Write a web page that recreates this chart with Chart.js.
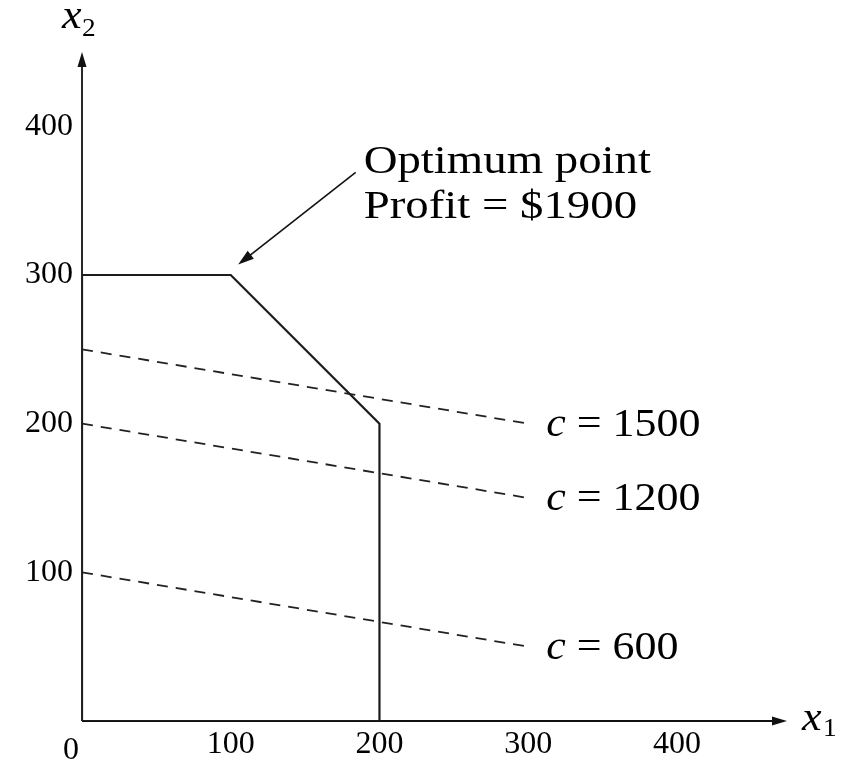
<!doctype html>
<html lang="en">
<head>
    <meta charset="utf-8">
    <title>LP feasible region</title>
    <script src="https://cdn.jsdelivr.net/npm/chart.js/dist/chart.umd.min.js"></script>
    <style>
        * { margin: 0; padding: 0; }
        body { background: #fff; }
        #lpChart { display: block; }
    </style>
</head>
<body>
    <canvas id="lpChart" width="849" height="762"></canvas>
    <script>
    // feasible region corners (x1, x2)
    var regionX = [0, 0, 100, 200, 200, 0];
    var regionY = [0, 300, 300, 200, 0, 0];

    // iso-profit lines c = x1 + 6 x2, drawn from x1 = 0 to x1 = 300
    var isoNames = ['c = 1500', 'c = 1200', 'c = 600'];
    var isoX = [0, 300];
    var isoY = [[250, 200], [200, 150], [100, 50]];

    var xTicks = [100, 200, 300, 400];
    var yTicks = [100, 200, 300, 400];

    // annotation (data units)
    var noteLines = ['Optimum point', 'Profit = $1900'];
    var noteFrom = [184, 369];
    var noteTo = [105, 307];

    var serif = '"Liberation Serif", "DejaVu Serif", serif';

    function stretchText(ctx, str, x, y, font, align, sx) {
        ctx.save();
        ctx.font = font;
        ctx.translate(x, y);
        ctx.scale(sx, 1);
        ctx.textAlign = align;
        ctx.fillText(str, 0, 0);
        ctx.restore();
    }

    function arrowHead(ctx, x0, y0, x1, y1, len, half) {
        var a = Math.atan2(y1 - y0, x1 - x0);
        ctx.beginPath();
        ctx.moveTo(x1, y1);
        ctx.lineTo(x1 - len * Math.cos(a) + half * Math.sin(a), y1 - len * Math.sin(a) - half * Math.cos(a));
        ctx.lineTo(x1 - len * Math.cos(a) - half * Math.sin(a), y1 - len * Math.sin(a) + half * Math.cos(a));
        ctx.closePath();
        ctx.fill();
    }

    var figurePlugin = {
        id: 'figure',
        beforeDatasetsDraw: function (chart) {
            var ctx = chart.ctx, sx = chart.scales.x, sy = chart.scales.y;
            var ox = sx.getPixelForValue(0), oy = sy.getPixelForValue(0);
            ctx.save();
            ctx.strokeStyle = '#111';
            ctx.fillStyle = '#111';
            ctx.lineWidth = 1.8;
            ctx.beginPath();
            ctx.moveTo(ox, oy); ctx.lineTo(sx.right - 4, oy);
            ctx.moveTo(ox, oy); ctx.lineTo(ox, sy.top + 4);
            ctx.stroke();
            arrowHead(ctx, ox, oy, sx.right, oy, 15, 4.5);
            arrowHead(ctx, ox, oy, ox, sy.top, 15, 4.5);
            ctx.restore();
        },
        afterDatasetsDraw: function (chart) {
            var ctx = chart.ctx, sx = chart.scales.x, sy = chart.scales.y;
            var ox = sx.getPixelForValue(0), oy = sy.getPixelForValue(0);
            ctx.save();
            ctx.fillStyle = '#000';
            ctx.textBaseline = 'middle';
            var tickFont = '32px ' + serif;
            xTicks.forEach(function (v) {
                stretchText(ctx, String(v), sx.getPixelForValue(v), oy + 24, tickFont, 'center', 1);
            });
            yTicks.forEach(function (v) {
                stretchText(ctx, String(v), ox - 9, sy.getPixelForValue(v), tickFont, 'right', 1);
            });
            stretchText(ctx, '0', ox - 11, oy + 30, tickFont, 'center', 1);

            // axis titles
            ctx.textBaseline = 'alphabetic';
            stretchText(ctx, 'x', 62, 28, 'italic 42px ' + serif, 'left', 1.05);
            stretchText(ctx, '2', 82, 36, '26px ' + serif, 'left', 1.05);
            stretchText(ctx, 'x', sx.right + 15, oy + 9, 'italic 42px ' + serif, 'left', 1.05);
            stretchText(ctx, '1', sx.right + 36, oy + 15, '26px ' + serif, 'left', 1.05);

            // iso-profit labels
            var labFont = '40px ' + serif;
            isoNames.forEach(function (name, i) {
                var lx = sx.getPixelForValue(isoX[1]) + 18;
                var ly = sy.getPixelForValue(isoY[i][1]) + 12;
                var parts = name.split(' ');
                stretchText(ctx, parts[0], lx, ly, 'italic 40px ' + serif, 'left', 1.1);
                ctx.font = 'italic 40px ' + serif;
                var w = ctx.measureText(parts[0]).width * 1.1;
                stretchText(ctx, ' ' + parts.slice(1).join(' '), lx + w, ly, labFont, 'left', 1.1);
            });

            // annotation
            var noteFont = '40px ' + serif;
            var tx = sx.getPixelForValue(noteFrom[0]) + 8;
            var ty = sy.getPixelForValue(noteFrom[1]);
            stretchText(ctx, noteLines[0], tx, ty + 1, noteFont, 'left', 1.17);
            stretchText(ctx, noteLines[1], tx, ty + 46, noteFont, 'left', 1.17);

            var ax0 = sx.getPixelForValue(noteFrom[0]), ay0 = sy.getPixelForValue(noteFrom[1]);
            var ax1 = sx.getPixelForValue(noteTo[0]), ay1 = sy.getPixelForValue(noteTo[1]);
            ctx.strokeStyle = '#111';
            ctx.fillStyle = '#111';
            ctx.lineWidth = 1.6;
            ctx.beginPath();
            ctx.moveTo(ax0, ay0);
            ctx.lineTo(ax1 + (ax0 - ax1) * 0.1, ay1 + (ay0 - ay1) * 0.1);
            ctx.stroke();
            arrowHead(ctx, ax0, ay0, ax1, ay1, 16, 5);
            ctx.restore();
        }
    };

    var datasets = [{
        label: 'region',
        data: regionX.map(function (v, i) { return { x: v, y: regionY[i] }; }),
        showLine: true,
        borderColor: '#1c1c1c',
        borderWidth: 2.2,
        pointRadius: 0,
        fill: false
    }];
    isoNames.forEach(function (name, i) {
        datasets.push({
            label: name,
            data: isoX.map(function (v, j) { return { x: v, y: isoY[i][j] }; }),
            showLine: true,
            borderColor: '#222',
            borderWidth: 1.8,
            borderDash: [11, 8],
            pointRadius: 0,
            fill: false
        });
    });

    new Chart(document.getElementById('lpChart'), {
        type: 'scatter',
        data: { datasets: datasets },
        options: {
            responsive: false,
            animation: false,
            layout: { padding: { left: 82, right: 62, top: 52, bottom: 41 } },
            scales: {
                x: { type: 'linear', display: false, min: 0, max: 474 },
                y: { type: 'linear', display: false, min: 0, max: 450 }
            },
            plugins: { legend: { display: false }, tooltip: { enabled: false } }
        },
        plugins: [figurePlugin]
    });
    </script>
</body>
</html>
